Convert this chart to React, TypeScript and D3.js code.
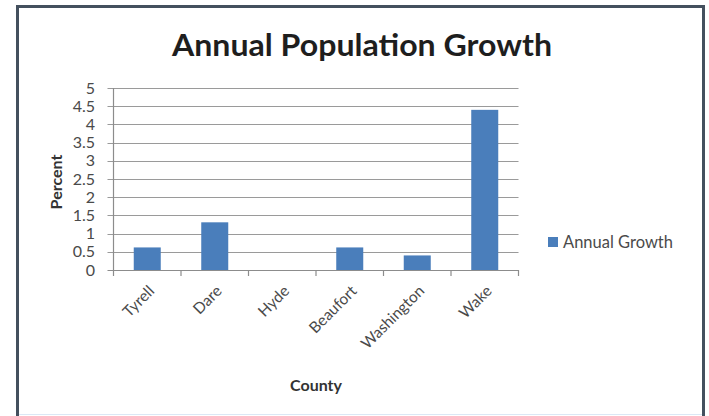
import React, { useEffect, useRef } from "react";
import * as d3 from "d3";

const counties = ["Tyrell", "Dare", "Hyde", "Beaufort", "Washington", "Wake"];
const growth = [0.62, 1.31, 0, 0.62, 0.4, 4.4];
const yTicks = [0, 0.5, 1, 1.5, 2, 2.5, 3, 3.5, 4, 4.5, 5];
const seriesName = "Annual Growth";
const titleText = "Annual Population Growth";
const xTitle = "County";
const yTitle = "Percent";

export default function App() {
  const ref = useRef<SVGSVGElement>(null);
  useEffect(() => {
    const svg = d3.select(ref.current);
    svg.selectAll("*").remove();
    const W = 709, H = 416;
    const font = "Lato, 'Open Sans', sans-serif";
    svg.append("rect").attr("width", W).attr("height", H).attr("fill", "#ffffff");
    // frame
    svg.append("path")
      .attr("d", `M17.5,${H} L17.5,6.5 L703.5,6.5 L703.5,${H}`)
      .attr("fill", "none").attr("stroke", "#44505e").attr("stroke-width", 3);
    svg.append("line").attr("x1", 19).attr("x2", 702).attr("y1", 414.5).attr("y2", 414.5)
      .attr("stroke", "#dbe8f5").attr("stroke-width", 1);

    const x0 = 113.5, x1 = 518.5, yTop = 88, yBot = 270;
    const x = d3.scaleBand().domain(counties).range([x0, x1]).paddingInner(0.6).paddingOuter(0.3);
    const xb = d3.scaleBand().domain(counties).range([x0, x1]);
    const y = d3.scaleLinear().domain([0, 5]).range([yBot, yTop]);

    const g = svg.append("g");
    g.selectAll("line.grid").data(yTicks).enter().append("line")
      .attr("x1", x0 - 6).attr("x2", x1)
      .attr("y1", d => Math.round(y(d)) + 0.5).attr("y2", d => Math.round(y(d)) + 0.5)
      .attr("stroke", d => d === 0 ? "#8c8c8c" : "#9a9a9a").attr("stroke-width", 1.2);
    g.append("line").attr("x1", x0).attr("x2", x0).attr("y1", y(5)).attr("y2", yBot + 0.5)
      .attr("stroke", "#8c8c8c").attr("stroke-width", 1.2);
    const bounds = counties.map(c => xb(c)!).concat([x1]);
    g.selectAll("line.xt").data(bounds).enter().append("line")
      .attr("x1", d => d).attr("x2", d => d).attr("y1", yBot).attr("y2", yBot + 6)
      .attr("stroke", "#8c8c8c").attr("stroke-width", 1.2);
    g.selectAll("text.yl").data(yTicks).enter().append("text")
      .attr("x", 95).attr("y", d => y(d)).attr("dy", "0.35em")
      .attr("text-anchor", "end").attr("font-family", font).attr("font-size", 16)
      .attr("fill", "#4a4a4a").text(d => String(d));
    g.selectAll("rect.bar").data(counties).enter().append("rect")
      .attr("x", d => x(d)!).attr("width", x.bandwidth())
      .attr("y", (d, i) => y(growth[i])).attr("height", (d, i) => yBot - y(growth[i]))
      .attr("fill", "#4a7ebb");
    g.selectAll("text.xl").data(counties).enter().append("text")
      .attr("transform", d => `translate(${xb(d)! + xb.bandwidth() / 2 + 8},${yBot + 22}) rotate(-45)`)
      .attr("text-anchor", "end").attr("font-family", font).attr("font-size", 15.5)
      .attr("fill", "#4a4a4a").text(d => d);
    svg.append("text").attr("x", 362).attr("y", 56).attr("text-anchor", "middle")
      .attr("font-family", font).attr("font-weight", "bold").attr("font-size", 30)
      .attr("textLength", 380).attr("lengthAdjust", "spacingAndGlyphs")
      .attr("fill", "#1e1e1e").text(titleText);
    svg.append("text").attr("x", (x0 + x1) / 2).attr("y", 391).attr("text-anchor", "middle")
      .attr("font-family", font).attr("font-weight", "bold").attr("font-size", 16)
      .attr("fill", "#333").text(xTitle);
    svg.append("text").attr("transform", `translate(62,182) rotate(-90)`).attr("text-anchor", "middle")
      .attr("font-family", font).attr("font-weight", "bold").attr("font-size", 16)
      .attr("fill", "#333").text(yTitle);
    svg.append("rect").attr("x", 548).attr("y", 237).attr("width", 10).attr("height", 10).attr("fill", "#4a7ebb");
    svg.append("text").attr("x", 563).attr("y", 242).attr("dy", "0.35em")
      .attr("font-family", font).attr("font-size", 16.5).attr("fill", "#4a4a4a").text(seriesName);
  }, []);
  return (
    <svg ref={ref} width={709} height={416} style={{ position: "absolute", left: 0, top: 0, display: "block" }} />
  );
}
